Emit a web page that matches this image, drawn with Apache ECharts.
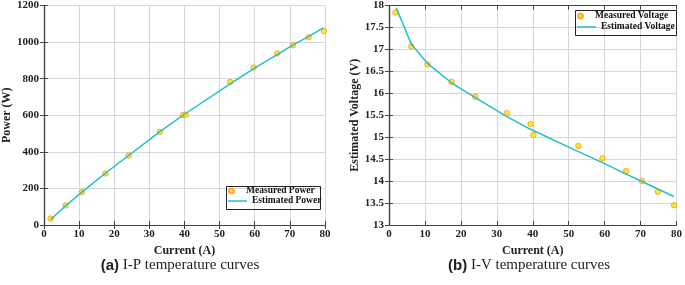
<!DOCTYPE html>
<html>
<head>
<meta charset="utf-8">
<script src="https://cdn.jsdelivr.net/npm/echarts@6/dist/echarts.min.js"></script>
<style>
  html, body { margin: 0; padding: 0; background: #fff; }
  #chart { width: 685px; height: 285px; }
</style>
</head>
<body>
<div id="chart"></div>
<script>
// I-P data (current A, power W)
var powerMeasured = [[1.9,35],[6.2,107],[10.8,180],[17.5,282],[24.1,380],[33.0,509],[39.6,602],[40.4,603],
  [53.0,782],[59.7,861],[66.4,938],[70.9,983],[75.3,1026],[79.7,1060]];
var powerEstimated = [[1.9,30],[6.2,105],[10.8,180],[17.5,283],[24.1,380],[33.0,510],[39.6,600],
  [53.0,772],[59.7,855],[66.4,932],[70.9,985],[75.3,1030],[79.5,1078]];

// I-V data (current A, voltage V)
var voltMeasured = [[1.8,17.84],[6.2,17.07],[10.7,16.66],[17.4,16.26],[24.0,15.92],[32.8,15.55],[39.4,15.30],
  [40.2,15.05],[52.7,14.80],[59.4,14.52],[66.0,14.23],[70.4,14.00],[74.8,13.76],[79.3,13.45]];
var voltEstimated = [[2.0,17.95],[6.2,17.12],[10.7,16.68],[17.4,16.24],[24.0,15.90],[32.8,15.47],[39.4,15.18],
  [52.7,14.67],[59.4,14.42],[66.0,14.16],[70.4,13.99],[74.8,13.82],[79.3,13.65]];

var serif = 'Liberation Serif';
var lineColor = '#22bfc6';
var markerFill = '#ffe000';
var markerEdge = '#ff9a1a';
var axisColor = '#444';

function xAxisMain(gi) {
  return {
    gridIndex: gi, type: 'value', min: 0, max: 80, interval: 10,
    name: 'Current (A)', nameLocation: 'middle', nameGap: 13,
    nameTextStyle: { fontFamily: serif, fontWeight: 'bold', fontSize: 12, color: '#222' },
    axisLine: { lineStyle: { color: axisColor, width: 1.2 } },
    axisTick: { inside: true, length: 4, lineStyle: { color: axisColor } },
    axisLabel: { fontFamily: serif, fontWeight: 'bold', fontSize: 11, color: '#222', margin: 4 },
    splitLine: { show: true, lineStyle: { color: '#d8d8d8' } }
  };
}
function xAxisTop(gi) {
  return {
    gridIndex: gi, type: 'value', min: 0, max: 80, interval: 10, position: 'top',
    axisLine: { lineStyle: { color: axisColor, width: 1.2 } },
    axisTick: { inside: true, length: 4, lineStyle: { color: axisColor } },
    axisLabel: { show: false }, splitLine: { show: false }
  };
}
function yAxisMain(gi, min, max, interval, name, gap) {
  return {
    gridIndex: gi, type: 'value', min: min, max: max, interval: interval,
    name: name, nameLocation: 'middle', nameGap: gap,
    nameTextStyle: { fontFamily: serif, fontWeight: 'bold', fontSize: 12, color: '#222' },
    axisLine: { show: true, lineStyle: { color: axisColor, width: 1.2 } },
    axisTick: { show: true, inside: true, length: 4, lineStyle: { color: axisColor } },
    axisLabel: { fontFamily: serif, fontWeight: 'bold', fontSize: 11, color: '#222', margin: 5,
      formatter: function (v) { return String(v); } },
    splitLine: { show: true, lineStyle: { color: '#d8d8d8' } }
  };
}
function yAxisRight(gi, min, max, interval) {
  return {
    gridIndex: gi, type: 'value', min: min, max: max, interval: interval, position: 'right',
    axisLine: { show: true, lineStyle: { color: axisColor, width: 1.2 } },
    axisTick: { show: true, inside: true, length: 4, lineStyle: { color: axisColor } },
    axisLabel: { show: false }, splitLine: { show: false }
  };
}

var legendText = { fontFamily: serif, fontWeight: 'bold', fontSize: 9.5, color: '#111' };
function legendItem(name, left, top, isLine) {
  return {
    data: [{ name: name, icon: isLine ? 'rect' : 'circle' }],
    left: left, top: top, padding: 0,
    itemWidth: 19, itemHeight: isLine ? 1.5 : 5,
    textStyle: legendText
  };
}

var option = {
  animation: false,
  backgroundColor: '#fff',
  grid: [
    { left: 38, top: 5, width: 287, height: 220 },
    { left: 389, top: 5, width: 289, height: 220 }
  ],
  xAxis: [xAxisMain(0), xAxisTop(0), xAxisMain(1), xAxisTop(1)],
  yAxis: [
    yAxisMain(0, 0, 1200, 200, 'Power (W)', 27),
    yAxisRight(0, 0, 1200, 200),
    yAxisMain(1, 13, 18, 0.5, 'Estimated Voltage (V)', 26),
    yAxisRight(1, 13, 18, 0.5)
  ],
  legend: [
    legendItem('Measured Power', 228, 186, false),
    legendItem('Estimated Power', 228, 196, true),
    legendItem('Measured Voltage', 577, 11, false),
    legendItem('Estimated Voltage', 577, 22, true)
  ],
  graphic: [
    { type: 'rect', left: 224, top: 184, shape: { width: 94, height: 23 },
      style: { fill: 'none', stroke: '#222', lineWidth: 1 }, z: 100 },
    { type: 'rect', left: 573, top: 8, shape: { width: 101, height: 25 },
      style: { fill: 'none', stroke: '#222', lineWidth: 1 }, z: 100 }
  ],
  title: [
    {
      text: '{b|(a)} I-P temperature curves', left: 175, top: 253, textAlign: 'center',
      textStyle: { fontFamily: serif, fontWeight: 'normal', fontSize: 15, color: '#222',
        rich: { b: { fontFamily: 'Liberation Sans', fontWeight: 'bold', fontSize: 15, color: '#222' } } }
    },
    {
      text: '{b|(b)} I-V temperature curves', left: 524, top: 253, textAlign: 'center',
      textStyle: { fontFamily: serif, fontWeight: 'normal', fontSize: 15, color: '#222',
        rich: { b: { fontFamily: 'Liberation Sans', fontWeight: 'bold', fontSize: 15, color: '#222' } } }
    }
  ],
  series: [
    {
      name: 'Estimated Power', type: 'line', xAxisIndex: 0, yAxisIndex: 0,
      data: powerEstimated, symbol: 'none', smooth: false,
      lineStyle: { color: lineColor, width: 1.5 }, itemStyle: { color: lineColor }
    },
    {
      name: 'Measured Power', type: 'scatter', xAxisIndex: 0, yAxisIndex: 0,
      data: powerMeasured, symbol: 'circle', symbolSize: 5.5,
      itemStyle: { color: markerFill, borderColor: markerEdge, borderWidth: 1 }
    },
    {
      name: 'Estimated Voltage', type: 'line', xAxisIndex: 2, yAxisIndex: 2,
      data: voltEstimated, symbol: 'none', smooth: false,
      lineStyle: { color: lineColor, width: 1.5 }, itemStyle: { color: lineColor }
    },
    {
      name: 'Measured Voltage', type: 'scatter', xAxisIndex: 2, yAxisIndex: 2,
      data: voltMeasured, symbol: 'circle', symbolSize: 5.5,
      itemStyle: { color: markerFill, borderColor: markerEdge, borderWidth: 1 }
    }
  ]
};

var chart = echarts.init(document.getElementById('chart'), null, { renderer: 'canvas' });
chart.setOption(option);
</script>
</body>
</html>
